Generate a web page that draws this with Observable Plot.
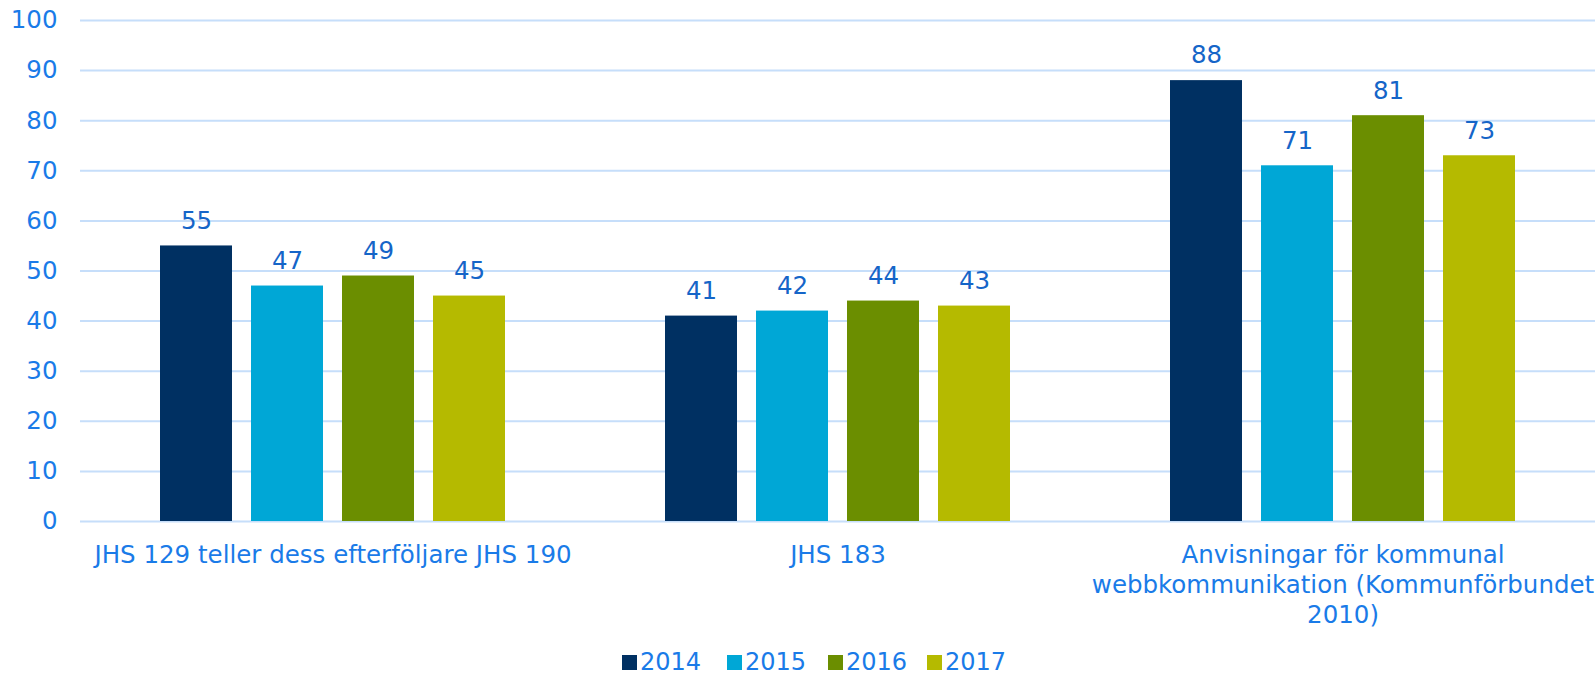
<!DOCTYPE html>
<html>
<head>
<meta charset="utf-8">
<script src="https://cdn.jsdelivr.net/npm/d3@7"></script>
<script src="https://cdn.jsdelivr.net/npm/@observablehq/plot@0.6"></script>
<style>
  html, body { margin: 0; padding: 0; background: #fff; }
  #wrap { width: 1595px; font-family: "DejaVu Sans", Verdana, sans-serif; }
  #legend { position: relative; height: 50px; }
  .item { position: absolute; top: 24px; display: flex; align-items: center; height: 26px; line-height: 26px; font-size: 24px; color: #1a7be8; }
  .sw { width: 15px; height: 15px; margin-right: 3px; }
</style>
</head>
<body>
<div id="wrap"></div>
<script>
const categories = [
  "JHS 129 teller dess efterföljare JHS 190",
  "JHS 183",
  "Anvisningar för kommunal webbkommunikation (Kommunförbundet 2010)"
];
const categoryLabels = [
  "JHS 129 teller dess efterföljare JHS 190",
  "JHS 183",
  "Anvisningar för kommunal\nwebbkommunikation (Kommunförbundet\n2010)"
];
const years = ["2014", "2015", "2016", "2017"];
const values2014 = [55, 41, 88];
const values2015 = [47, 42, 71];
const values2016 = [49, 44, 81];
const values2017 = [45, 43, 73];
const yTicks = [0, 10, 20, 30, 40, 50, 60, 70, 80, 90, 100];
const colors = ["#003062", "#00A7D6", "#6B8E00", "#B5BA00"];

const series = [values2014, values2015, values2016, values2017];
const data = [];
categories.forEach((c, i) => {
  years.forEach((yr, j) => data.push({cat: c, year: yr, value: series[j][i]}));
});

const chart = Plot.plot({
  width: 1595,
  height: 625,
  marginLeft: 79,
  marginRight: 0,
  marginTop: 20,
  marginBottom: 104,
  style: {fontFamily: "DejaVu Sans, Verdana, sans-serif", fontSize: "24px", background: "white", overflow: "visible"},
  fx: {domain: categories, padding: 0, label: null, axis: null},
  x: {domain: years, paddingInner: 0.213, paddingOuter: 0.864, axis: null},
  y: {domain: [0, 100], label: null, axis: null},
  color: {domain: years, range: colors},
  marks: [
    Plot.ruleY(yTicks, {stroke: "#c6defa", strokeWidth: 2}),
    Plot.axisY(yTicks, {tickSize: 0, tickPadding: 23, fill: "#1a7be8", label: null, fontSize: 24.5}),
    Plot.axisFx({
      anchor: "bottom",
      tickSize: 0, tickPadding: 20, label: null, fill: "#1a7be8", fontSize: 24.5, lineHeight: 1.225,
      tickFormat: d => categoryLabels[categories.indexOf(d)]
    }),
    Plot.barY(data, {fx: "cat", x: "year", y: "value", fill: "year"}),
    Plot.text(data, {fx: "cat", x: "year", y: "value", text: d => String(d.value), dy: -25, lineAnchor: "middle", fill: "#1565c8", fontSize: 24.5})
  ]
});

const wrap = document.getElementById("wrap");
wrap.appendChild(chart);

const legend = document.createElement("div");
legend.id = "legend";
const lefts = [622, 727, 828, 927];
years.forEach((yr, i) => {
  const it = document.createElement("div");
  it.className = "item";
  it.style.left = lefts[i] + "px";
  const sw = document.createElement("span");
  sw.className = "sw";
  sw.style.background = colors[i];
  const t = document.createElement("span");
  t.textContent = yr;
  it.appendChild(sw);
  it.appendChild(t);
  legend.appendChild(it);
});
wrap.appendChild(legend);
</script>
</body>
</html>
